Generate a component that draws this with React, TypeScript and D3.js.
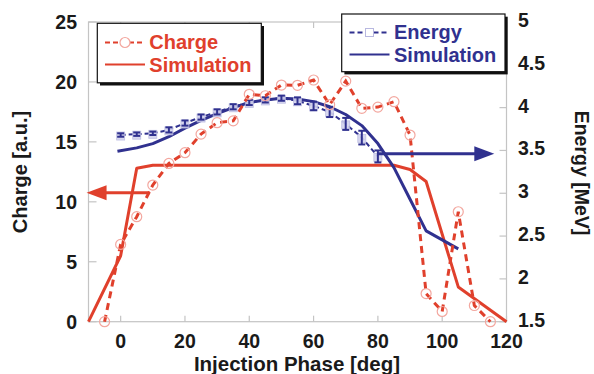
import React from "react";
import * as d3 from "d3";

const chargePhase = [-5, 0, 5, 10, 15, 20, 25, 30, 35, 40, 45, 50, 55, 60, 65, 70, 75, 80, 85, 90, 95, 100, 105, 110, 115];
const chargeValues = [0, 6.45, 8.76, 11.4, 13.2, 14.1, 15.65, 16.6, 16.75, 18.97, 18.85, 19.74, 19.72, 20.16, 18.1, 20.07, 17.8, 17.9, 18.35, 15.57, 2.35, 0.85, 9.17, 1.35, 0];

const chargeSimPhase = [-10, 0, 5, 10, 85, 90, 95, 105, 120];
const chargeSimValues = [0, 5.5, 12.8, 13.05, 13.05, 12.7, 11.7, 2.9, 0];

const energyPhase = [0, 5, 10, 15, 20, 25, 30, 35, 40, 45, 50, 55, 60, 65, 70, 75, 80];
const energyValues = [3.68, 3.69, 3.7, 3.74, 3.82, 3.89, 3.95, 4.01, 4.06, 4.09, 4.11, 4.08, 4.02, 3.95, 3.81, 3.65, 3.43];
const energyErrors = [0.02, 0.02, 0.02, 0.03, 0.03, 0.03, 0.03, 0.03, 0.03, 0.03, 0.03, 0.04, 0.05, 0.06, 0.07, 0.08, 0.07];

const energySimPhase = [-1, 5, 10, 15, 20, 25, 30, 35, 40, 45, 50, 55, 60, 65, 70, 75, 80, 85, 90, 95, 105];
const energySimValues = [3.49, 3.53, 3.58, 3.66, 3.76, 3.85, 3.93, 4.0, 4.06, 4.09, 4.11, 4.1, 4.07, 4.01, 3.92, 3.79, 3.58, 3.3, 2.93, 2.56, 2.35];

const xTicks = [0, 20, 40, 60, 80, 100, 120];
const yLeftTicks = [0, 5, 10, 15, 20, 25];
const yRightTicks = [1.5, 2, 2.5, 3, 3.5, 4, 4.5, 5];

// arrows: [from phase, to phase, value]
const chargeArrow = [9, -10.6, 10.75];
const energyArrow = [80, 116.2, 3.46];

const RED = "#e0402c";
const BLUE = "#30318f";
const GRID = "#c4c4c4";
const FONT = "'Liberation Sans', Arial, sans-serif";

export default function App() {
  const W = 594, H = 374;
  const x = d3.scaleLinear().domain([-10, 120]).range([88.5, 506.5]);
  const yL = d3.scaleLinear().domain([0, 25]).range([321.7, 22]);
  const yR = d3.scaleLinear().domain([1.5, 5]).range([321.7, 22]);
  const [x0, x1] = x.range();
  const [yb, yt] = yL.range();

  const lineL = d3.line<[number, number]>().x(d => x(d[0])).y(d => yL(d[1]));
  const lineR = d3.line<[number, number]>().x(d => x(d[0])).y(d => yR(d[1]));

  const charge = chargePhase.map((p, i) => [p, chargeValues[i]] as [number, number]);
  const chargeSim = chargeSimPhase.map((p, i) => [p, chargeSimValues[i]] as [number, number]);
  const energy = energyPhase.map((p, i) => [p, energyValues[i]] as [number, number]);
  const energySim = energySimPhase.map((p, i) => [p, energySimValues[i]] as [number, number]);

  const arrowHead = (tipX: number, y: number, dir: number, color: string) => {
    const len = 20, half = 7.5;
    return (
      <polygon
        points={`${tipX},${y} ${tipX - dir * len},${y - half} ${tipX - dir * len},${y + half}`}
        fill={color}
      />
    );
  };

  const rArrY = yL(chargeArrow[2]);
  const bArrY = yR(energyArrow[2]);

  return (
    <svg width={W} height={H} style={{ position: "absolute", left: 0, top: 0, background: "#fff" }} fontFamily={FONT}>
      <rect x={0} y={0} width={W} height={H} fill="#fff" />
      {/* frame */}
      <rect x={x0} y={yt} width={x1 - x0} height={yb - yt} fill="none" stroke={GRID} strokeWidth={1.2} />
      {xTicks.map(t => (
        <g key={"xt" + t}>
          <line x1={x(t)} x2={x(t)} y1={yb} y2={yb - 6} stroke={GRID} strokeWidth={1.2} />
          <line x1={x(t)} x2={x(t)} y1={yt} y2={yt + 6} stroke={GRID} strokeWidth={1.2} />
          <text x={x(t)} y={348} textAnchor="middle" fontSize={19.5} fontWeight="bold" fill="#1a1a1a">{t}</text>
        </g>
      ))}
      {yLeftTicks.map(t => (
        <g key={"yl" + t}>
          <line x1={x0} x2={x0 + 8} y1={yL(t)} y2={yL(t)} stroke={GRID} strokeWidth={1.2} />
          <text x={77} y={yL(t) + 7} textAnchor="end" fontSize={19.5} fontWeight="bold" fill="#1a1a1a">{t}</text>
        </g>
      ))}
      {yRightTicks.map(t => (
        <g key={"yr" + t}>
          <line x1={x1} x2={x1 - 7} y1={yR(t)} y2={yR(t)} stroke={GRID} strokeWidth={1.2} />
          <text x={518} y={yR(t) + 5} textAnchor="start" fontSize={19.5} fontWeight="bold" fill="#1a1a1a">{t}</text>
        </g>
      ))}

      {/* axis titles */}
      <text transform={`translate(27,172) rotate(-90)`} textAnchor="middle" fontSize={20} fontWeight="bold" fill="#1a1a1a">Charge [a.u.]</text>
      <text transform={`translate(575,173) rotate(90)`} textAnchor="middle" fontSize={19.5} fontWeight="bold" fill="#1a1a1a">Energy [MeV]</text>
      <text x={297} y={371} textAnchor="middle" fontSize={20.5} fontWeight="bold" fill="#1a1a1a">Injection Phase [deg]</text>

      {/* simulations */}
      <path d={lineL(chargeSim) || ""} fill="none" stroke={RED} strokeWidth={3} strokeLinejoin="round" />
      <path d={lineR(energySim) || ""} fill="none" stroke={BLUE} strokeWidth={3} strokeLinejoin="round" />

      {/* energy measurement */}
      <path d={lineR(energy) || ""} fill="none" stroke={BLUE} strokeWidth={2} strokeDasharray="5,3" />
      {energy.map((d, i) => (
        <rect key={"sq" + i} x={x(d[0]) - 4} y={yR(d[1]) - 3} width={8} height={8} fill="#d3d3ee" stroke="#b8b8e0" strokeWidth={0.8} opacity={0.9} />
      ))}
      {energy.map((d, i) => {
        const cx = x(d[0]);
        const ya = yR(d[1] + energyErrors[i]);
        const yb2 = yR(d[1] - energyErrors[i]);
        return (
          <g key={"eb" + i} stroke={BLUE} strokeWidth={2}>
            <line x1={cx} x2={cx} y1={ya} y2={yb2} />
            <line x1={cx - 3.5} x2={cx + 3.5} y1={ya} y2={ya} />
            <line x1={cx - 3.5} x2={cx + 3.5} y1={yb2} y2={yb2} />
          </g>
        );
      })}

      {/* charge measurement */}
      <path d={lineL(charge) || ""} fill="none" stroke={RED} strokeWidth={3} strokeDasharray="7,5" />
      {charge.map((d, i) => (
        <circle key={"c" + i} cx={x(d[0])} cy={yL(d[1])} r={5} fill="none" stroke="#f3a79f" strokeWidth={1.2} />
      ))}

      {/* arrows */}
      <line x1={x(chargeArrow[0])} x2={x(chargeArrow[1]) + 15} y1={rArrY} y2={rArrY} stroke={RED} strokeWidth={3} />
      {arrowHead(x(chargeArrow[1]), rArrY, -1, RED)}
      <line x1={x(energyArrow[0])} x2={x(energyArrow[1]) - 15} y1={bArrY} y2={bArrY} stroke={BLUE} strokeWidth={3} />
      {arrowHead(x(energyArrow[1]), bArrY, 1, BLUE)}

      {/* left legend */}
      <rect x={100} y={26} width={164} height={59.5} fill="#111" />
      <rect x={97.3} y={23.3} width={164} height={59.5} fill="#fff" stroke="#111" strokeWidth={1.2} />
      <line x1={105} x2={145} y1={42.5} y2={42.5} stroke={RED} strokeWidth={2.2} strokeDasharray="5,3" />
      <circle cx={125} cy={42.5} r={5} fill="#fff" stroke="#f3a79f" strokeWidth={1.2} />
      <text x={149.3} y={49.3} fontSize={20} fontWeight="bold" fill={RED}>Charge</text>
      <line x1={105} x2={145} y1={64.5} y2={64.5} stroke={RED} strokeWidth={2.2} />
      <text x={149.3} y={71.5} fontSize={20} fontWeight="bold" fill={RED}>Simulation</text>

      {/* right legend */}
      <rect x={344.4} y={16.7} width={163.3} height={57.7} fill="#111" />
      <rect x={341.7} y={14} width={163.3} height={57.7} fill="#fff" stroke="#111" strokeWidth={1.2} />
      <line x1={349.5} x2={389.5} y1={32.5} y2={32.5} stroke={BLUE} strokeWidth={2} strokeDasharray="5,3" />
      <rect x={365.5} y={28.5} width={8} height={8} fill="#fff" stroke="#b8b8e0" strokeWidth={1} />
      <text x={394} y={39.3} fontSize={20} fontWeight="bold" fill={BLUE}>Energy</text>
      <line x1={349.5} x2={389.5} y1={54.5} y2={54.5} stroke={BLUE} strokeWidth={2} />
      <text x={394} y={61.5} fontSize={20} fontWeight="bold" fill={BLUE}>Simulation</text>
    </svg>
  );
}
